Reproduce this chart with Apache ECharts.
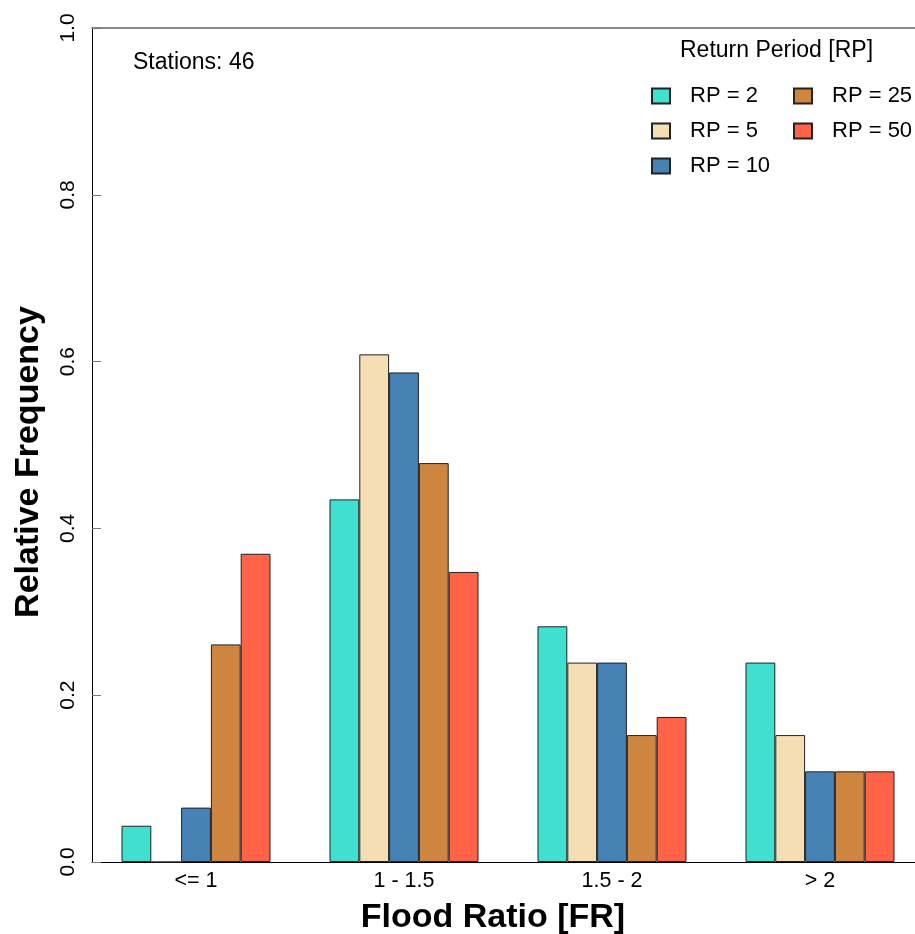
<!DOCTYPE html>
<html>
<head>
<meta charset="utf-8">
<script src="https://cdn.jsdelivr.net/npm/echarts@6/dist/echarts.min.js"></script>
<style>
  html, body { margin: 0; padding: 0; background: #fff; overflow: hidden; }
  /* the plot frame runs past the right edge of the page, so the canvas is a bit wider */
  #chart { width: 924px; height: 934px; }
</style>
</head>
<body>
<div id="chart"></div>
<script>
// Flood ratio classes on the x axis
var categories = ['<= 1', '1 - 1.5', '1.5 - 2', '> 2'];

// Relative frequency of stations (46 stations) per return period
var rp2  = [0.0435, 0.4348, 0.2826, 0.2391];
var rp5  = [0.0,    0.6087, 0.2391, 0.1522];
var rp10 = [0.0652, 0.5870, 0.2391, 0.1087];
var rp25 = [0.2609, 0.4783, 0.1522, 0.1087];
var rp50 = [0.3696, 0.3478, 0.1739, 0.1087];

var seriesNames = ['RP = 2', 'RP = 5', 'RP = 10', 'RP = 25', 'RP = 50'];
var seriesData = [rp2, rp5, rp10, rp25, rp50];
var seriesColors = ['#40E0D0', '#F5DEB3', '#4682B4', '#CD853F', '#FF6347'];

var yTicks = [0, 0.2, 0.4, 0.6, 0.8, 1.0];

var FONT = 'Liberation Sans, Arial, Helvetica, sans-serif';

var chart = echarts.init(document.getElementById('chart'), null, { renderer: 'canvas' });

var series = seriesNames.map(function (name, i) {
  return {
    name: name,
    type: 'bar',
    data: seriesData[i],
    barWidth: 29.8,
    barGap: '0%',
    itemStyle: { color: seriesColors[i], borderColor: '#222', borderWidth: 1 },
    emphasis: { disabled: true }
  };
});

var legendText = { fontFamily: FONT, fontSize: 22, color: '#000', padding: [0, 0, 0, 15], lineHeight: 22 };

function legendColumn(names, left) {
  return {
    data: names,
    orient: 'vertical',
    left: left,
    top: 85,
    padding: 0,
    itemWidth: 18,
    itemHeight: 15,
    itemGap: 13,
    icon: 'rect',
    textStyle: legendText,
    selectedMode: false
  };
}

chart.setOption({
  animation: false,
  backgroundColor: '#fff',
  grid: { left: 92, top: 28, width: 832, height: 834, containLabel: false },
  xAxis: [{
    type: 'category',
    data: categories,
    boundaryGap: true,
    axisLine: { show: true, lineStyle: { color: '#000', width: 1 } },
    axisTick: { show: false },
    axisLabel: { fontFamily: FONT, fontSize: 21.5, color: '#000', margin: 8 }
  }, {
    type: 'category',
    position: 'top',
    data: categories,
    axisLine: { show: true, lineStyle: { color: '#666', width: 1.5 } },
    axisTick: { show: false },
    axisLabel: { show: false }
  }],
  yAxis: {
    type: 'value',
    min: yTicks[0],
    max: yTicks[yTicks.length - 1],
    interval: 0.2,
    splitLine: { show: false },
    axisLine: { show: true, lineStyle: { color: '#000', width: 1 } },
    axisTick: { show: true, inside: true, length: 9, lineStyle: { color: '#777' } },
    axisLabel: {
      fontFamily: FONT, fontSize: 21, color: '#000', rotate: 90, margin: 13,
      formatter: function (v) { return v.toFixed(1); }
    }
  },
  legend: [
    legendColumn(seriesNames.slice(0, 3), 651),
    legendColumn(seriesNames.slice(3), 793)
  ],
  graphic: [{
    type: 'text',
    left: 133,
    top: 51,
    style: { text: 'Stations: 46', font: '23px ' + FONT, fill: '#000' }
  }, {
    type: 'text',
    left: 680,
    top: 39,
    style: { text: 'Return Period [RP]', font: '23px ' + FONT, fill: '#000' }
  }, {
    type: 'text',
    x: 493,
    y: 918,
    style: { text: 'Flood Ratio [FR]', font: 'bold 34px ' + FONT, fill: '#000', align: 'center', verticalAlign: 'middle' }
  }, {
    type: 'text',
    x: 29,
    y: 462,
    rotation: Math.PI / 2,
    style: { text: 'Relative Frequency', font: 'bold 34px ' + FONT, fill: '#000', align: 'center', verticalAlign: 'middle' }
  }],
  series: series
});
</script>
</body>
</html>
